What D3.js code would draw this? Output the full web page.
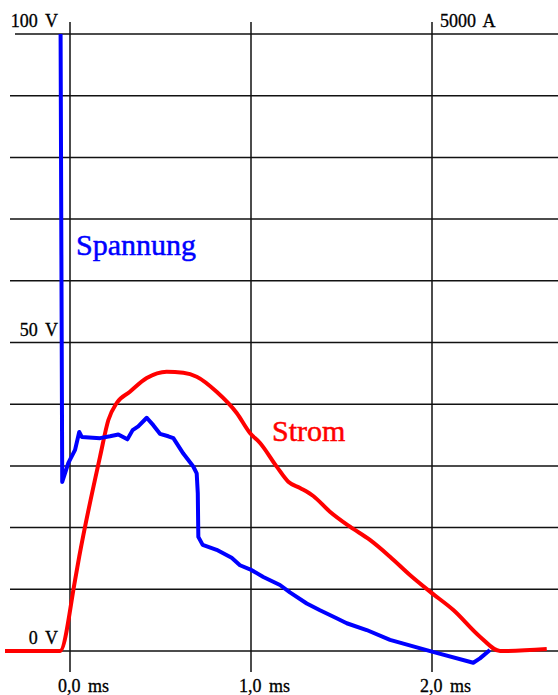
<!DOCTYPE html>
<html>
<head>
<meta charset="utf-8">
<script src="https://cdn.jsdelivr.net/npm/d3@7"></script>
<style>
  body { margin: 0; background: #fff; }
  svg { display: block; }
  .grid line { stroke: #111; stroke-width: 1.5; }
  .line { fill: none; stroke-width: 4; stroke-linejoin: round; stroke-linecap: butt; }
</style>
</head>
<body>
<svg id="chart"></svg>
<script>
var W = 558, H = 695;
var serif = "'Liberation Serif', 'Times New Roman', 'DejaVu Serif', serif";

// time in ms
var timeTicks = [0, 1, 2],
    timeLabels = ["0,0 ms", "1,0 ms", "2,0 ms"];

// voltage grid, every 10 V
var voltTicks = [0, 10, 20, 30, 40, 50, 60, 70, 80, 90, 100],
    voltLabels = [{v: 100, text: "100 V"}, {v: 50, text: "50 V"}, {v: 0, text: "0 V"}];

// Spannung (V)
var spannungT = [-0.052, -0.043, -0.009, 0.028, 0.051, 0.065, 0.166, 0.221, 0.267, 0.317, 0.346, 0.377, 0.424, 0.460, 0.497, 0.543, 0.571, 0.626, 0.681, 0.700, 0.706, 0.709, 0.733, 0.810, 0.893, 0.939, 1.004, 1.068, 1.160, 1.215, 1.308, 1.381, 1.473, 1.529, 1.639, 1.768, 2.000, 2.228, 2.265, 2.320];
var spannungV = [100, 27.4, 30.5, 32.6, 35.5, 34.7, 34.5, 34.8, 35.1, 34.3, 35.8, 36.4, 37.8, 36.6, 35.2, 34.8, 34.5, 32.0, 29.9, 28.8, 25.6, 18.5, 17.2, 16.4, 15.1, 13.9, 13.1, 12.0, 10.7, 9.5, 7.7, 6.6, 5.3, 4.5, 3.4, 1.8, -0.1, -1.9, -1.2, 0.15];

// Strom (A)
var stromT = [-0.359, -0.055, 0.028, 0.051, 0.166, 0.212, 0.258, 0.331, 0.424, 0.534, 0.626, 0.700, 0.810, 0.921, 0.994, 1.050, 1.142, 1.206, 1.271, 1.344, 1.436, 1.547, 1.657, 1.768, 1.878, 1.989, 2.118, 2.265, 2.376, 2.394, 2.634];
var stromA = [0, 0, 575, 764, 1575, 1872, 2010, 2101, 2212, 2263, 2255, 2223, 2101, 1929, 1767, 1686, 1494, 1372, 1321, 1256, 1129, 1007, 900, 764, 616, 481, 332, 116, 0, 0, 16];

var x = d3.scaleLinear().domain([0, 1]).range([70, 251]);
var yV = d3.scaleLinear().domain([0, 100]).range([651, 34]);
var yA = d3.scaleLinear().domain([0, 5000]).range([651, 34]);

var svg = d3.select("#chart").attr("width", W).attr("height", H);

var grid = svg.append("g").attr("class", "grid");

grid.selectAll(".h").data(voltTicks).enter().append("line")
    .attr("class", "h")
    .attr("x1", function(d) { return d == 100 ? 15 : 10; })
    .attr("x2", W)
    .attr("y1", function(d) { return yV(d); })
    .attr("y2", function(d) { return yV(d); });

grid.selectAll(".v").data(timeTicks).enter().append("line")
    .attr("class", "v")
    .attr("x1", function(d) { return x(d); })
    .attr("x2", function(d) { return x(d); })
    .attr("y1", 22)
    .attr("y2", 672);

function lbl(sel) {
  sel.attr("font-family", serif).attr("font-size", 18).attr("fill", "#000")
     .attr("stroke", "#000").attr("stroke-width", 0.3)
     .style("word-spacing", "3px");
}

// labels
svg.selectAll(".vl").data(voltLabels).enter().append("text")
    .call(lbl)
    .attr("x", 58)
    .attr("y", function(d) { return yV(d.v) - 7; })
    .attr("text-anchor", "end")
    .text(function(d) { return d.text; });

svg.append("text").call(lbl)
    .attr("x", x(2) + 8).attr("y", yA(5000) - 7)
    .text("5000 A");

svg.selectAll(".tl").data(timeTicks).enter().append("text")
    .call(lbl)
    .attr("x", function(d) { return x(d) - 12; })
    .attr("y", 692)
    .text(function(d, i) { return timeLabels[i]; });

// series
var voltLine = d3.line()
    .x(function(d) { return x(d[0]); })
    .y(function(d) { return yV(d[1]); });

var ampLine = d3.line()
    .curve(d3.curveMonotoneX)
    .x(function(d) { return x(d[0]); })
    .y(function(d) { return yA(d[1]); });

svg.append("path")
    .attr("class", "line")
    .attr("d", ampLine(d3.zip(stromT, stromA)))
    .style("stroke", "#ff0000");

svg.append("path")
    .attr("class", "line")
    .attr("d", voltLine(d3.zip(spannungT, spannungV)))
    .style("stroke", "#0000ff");

svg.append("text")
    .attr("font-family", serif).attr("font-size", 30)
    .attr("stroke", "#0000ff").attr("stroke-width", 0.5)
    .attr("x", 76).attr("y", 255)
    .attr("fill", "#0000ff")
    .text("Spannung");

svg.append("text")
    .attr("font-family", serif).attr("font-size", 30)
    .attr("stroke", "#ff0000").attr("stroke-width", 0.5)
    .attr("x", 272).attr("y", 441)
    .attr("fill", "#ff0000")
    .text("Strom");
</script>
</body>
</html>
